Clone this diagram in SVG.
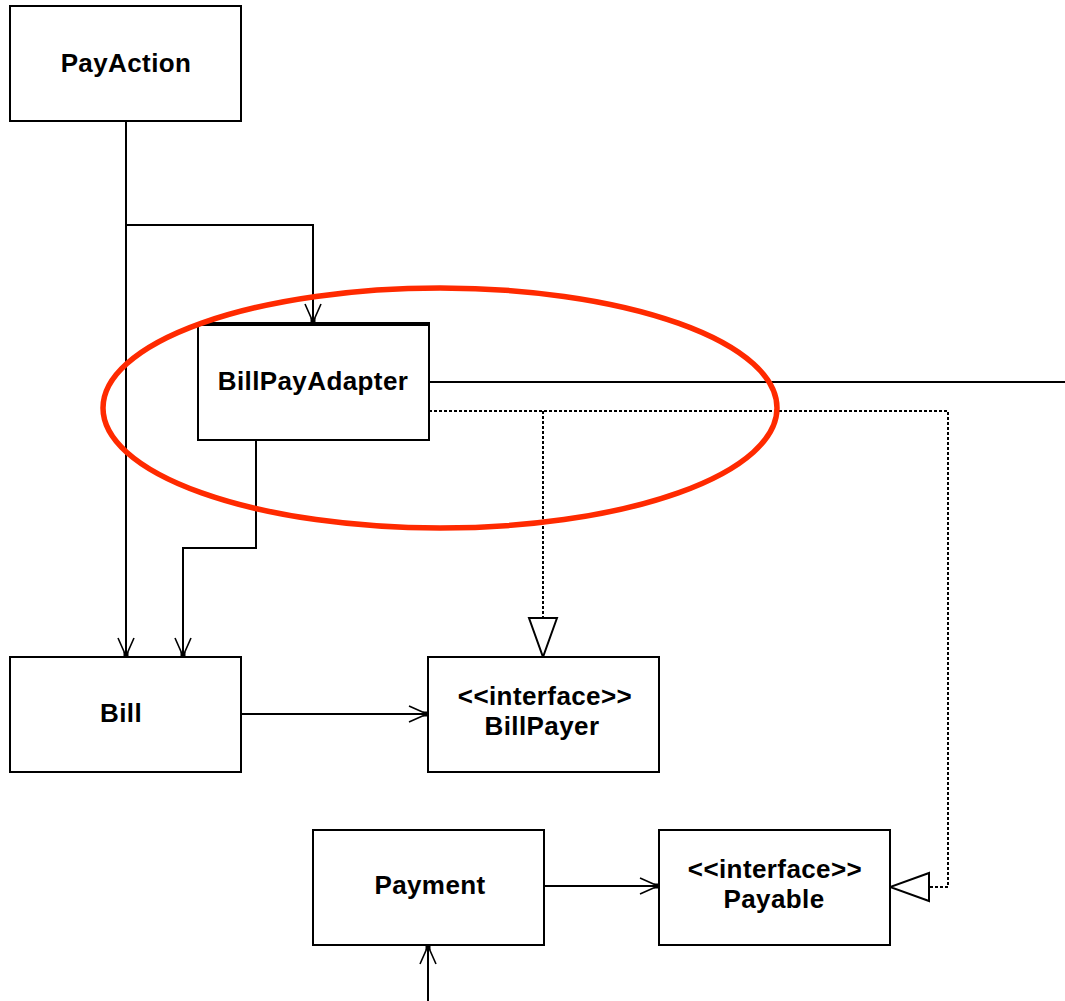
<svg xmlns="http://www.w3.org/2000/svg" width="1065" height="1001" viewBox="0 0 1065 1001">
  <style>
    .box { fill: #ffffff; stroke: #000000; stroke-width: 2; }
    .label { font-family: "Liberation Sans", Arial, sans-serif; font-weight: bold; font-size: 26px; letter-spacing: 0.4px; fill: #000000; text-anchor: middle; }
    .assoc { fill: none; stroke: #000000; stroke-width: 2; }
    .realize { fill: none; stroke: #000000; stroke-width: 2; stroke-dasharray: 3 2; }
    .highlight { fill: none; stroke: #ff2a00; stroke-width: 5.5; }
  </style>
  <defs>
    <!-- open navigable-association arrowhead -->
    <marker id="open" markerUnits="userSpaceOnUse" viewBox="-22 -12 24 24" refX="0" refY="0" markerWidth="24" markerHeight="24" orient="auto">
      <path d="M-19,-8 L-1,0 L-19,8" fill="none" stroke="#000" stroke-width="1.6"/>
      <rect x="-5" y="-2.5" width="5" height="5" fill="#000"/>
    </marker>
    <!-- hollow realization triangle -->
    <marker id="tri" markerUnits="userSpaceOnUse" viewBox="-42 -16 44 32" refX="0" refY="0" markerWidth="44" markerHeight="32" orient="auto">
      <path d="M-39,-14 L0,0 L-39,14 Z" fill="#fff" stroke="#000" stroke-width="2"/>
    </marker>
  </defs>

  <g id="connectors">
    <!-- PayAction to Bill and BillPayAdapter -->
    <path class="assoc" d="M126,121 V657" marker-end="url(#open)"/>
    <path class="assoc" d="M126,225 H313 V323" marker-end="url(#open)"/>
    <!-- BillPayAdapter to Bill -->
    <path class="assoc" d="M256,440 V548 H183 V657" marker-end="url(#open)"/>
    <!-- BillPayAdapter outgoing to the right -->
    <path class="assoc" d="M429,382 H1065"/>
    <!-- Bill to BillPayer -->
    <path class="assoc" d="M241,714 H428" marker-end="url(#open)"/>
    <!-- Payment to Payable -->
    <path class="assoc" d="M544,886 H659" marker-end="url(#open)"/>
    <!-- incoming from below to Payment -->
    <path class="assoc" d="M428,1001 V945" marker-end="url(#open)"/>
    <!-- realizations -->
    <path class="realize" d="M429,411 H948 V887 H890" marker-end="url(#tri)"/>
    <path class="realize" d="M543,411 V657" marker-end="url(#tri)"/>
  </g>

  <g id="PayAction">
    <rect class="box" x="10" y="6" width="231" height="115"/>
    <text class="label" x="126" y="72">PayAction</text>
  </g>

  <g id="BillPayAdapter">
    <rect class="box" x="198" y="324" width="231" height="116"/>
    <line x1="197" y1="324" x2="430" y2="324" stroke="#000" stroke-width="4"/>
    <text class="label" x="313" y="390">BillPayAdapter</text>
  </g>

  <g id="Bill">
    <rect class="box" x="10" y="657" width="231" height="115"/>
    <text class="label" x="121" y="722">Bill</text>
  </g>

  <g id="BillPayer">
    <rect class="box" x="428" y="657" width="231" height="115"/>
    <text class="label" x="545" y="705">&lt;&lt;interface&gt;&gt;</text>
    <text class="label" x="542" y="735">BillPayer</text>
  </g>

  <g id="Payment">
    <rect class="box" x="313" y="830" width="231" height="115"/>
    <text class="label" x="430" y="894">Payment</text>
  </g>

  <g id="Payable">
    <rect class="box" x="659" y="830" width="231" height="115"/>
    <text class="label" x="775" y="878">&lt;&lt;interface&gt;&gt;</text>
    <text class="label" x="774" y="908">Payable</text>
  </g>

  <!-- emphasis ring around the adapter -->
  <ellipse class="highlight" cx="440" cy="408" rx="337" ry="120"/>
</svg>
